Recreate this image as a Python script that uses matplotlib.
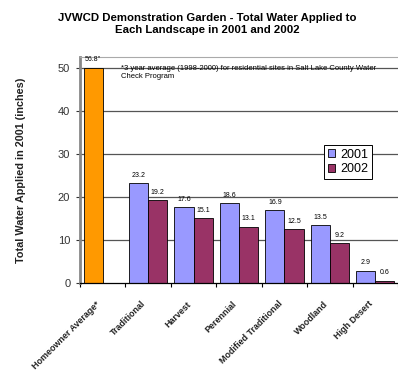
import numpy as np
import matplotlib
matplotlib.use("Agg")
import matplotlib.pyplot as plt
from matplotlib.patches import Patch

# data
categories = ["Homeowner Average*", "Traditional", "Harvest", "Perennial",
              "Modified Traditional", "Woodland", "High Desert"]
water_2001 = [56.8, 23.2, 17.6, 18.6, 16.9, 13.5, 2.9]
water_2002 = [None, 19.2, 15.1, 13.1, 12.5, 9.2, 0.6]
labels_2001 = ['56.8"', "23.2", "17.6", "18.6", "16.9", "13.5", "2.9"]
labels_2002 = [None, "19.2", "15.1", "13.1", "12.5", "9.2", "0.6"]
axis_max = 50

plt.rcParams['font.family'] = ['Liberation Sans', 'DejaVu Sans']

fig = plt.figure(figsize=(3.98, 3.72), dpi=100)
ax = fig.add_axes([0.201, 0.239, 0.799, 0.608])

x = np.arange(len(categories))
w = 0.42
blue = "#9999ff"
maroon = "#993366"
orange = "#ff9900"

# grid lines behind the bars
for g in range(10, axis_max + 1, 10):
    ax.axhline(g, color="#555555", lw=0.9, zorder=0)

h01 = [min(v, axis_max) for v in water_2001]
cols01 = [orange] + [blue] * (len(categories) - 1)
ax.bar(x - w / 2, h01, width=w, color=cols01, edgecolor="black", lw=0.6, zorder=2)

x02 = [xi + w / 2 for xi, v in zip(x, water_2002) if v is not None]
h02 = [v for v in water_2002 if v is not None]
ax.bar(x02, h02, width=w, color=maroon, edgecolor="black", lw=0.6, zorder=2)

for xi, v, t in zip(x, h01, labels_2001):
    ax.text(xi - w / 2, v + 1.0, t, ha="center", va="bottom", fontsize=5)
for xi, v, t in zip(x, water_2002, labels_2002):
    if v is not None:
        ax.text(xi + w / 2, v + 1.0, t, ha="center", va="bottom", fontsize=5)

ax.set_xlim(-0.5, len(categories) - 0.5)
ax.set_ylim(0, 52.5)
ax.set_yticks(range(0, axis_max + 1, 10))
ax.tick_params(axis="y", labelsize=8, length=3, width=0.8, colors="#333333", pad=4)
ax.set_xticks(np.arange(-0.5, len(categories), 1.0))
ax.set_xticklabels([])
ax.tick_params(axis="x", length=3, width=0.8)
for xi, c in zip(x, categories):
    ax.text(xi - 0.15, -3.8, c, rotation=45, ha="right", va="top",
            rotation_mode="anchor", fontsize=6.4, fontweight="bold", color="#222222")

ax.spines["left"].set_color("#888888")
ax.spines["left"].set_linewidth(2.0)
ax.spines["top"].set_color("#aaaaaa")
ax.spines["right"].set_visible(False)
ax.spines["bottom"].set_linewidth(0.9)

ax.set_ylabel("Total Water Applied in 2001 (inches)", fontsize=7.8,
              fontweight="bold", color="#222222")
ax.yaxis.set_label_coords(-0.17, 0.5)

ax.text(0.13, 0.965, "*3 year average (1998-2000) for residential sites in Salt Lake County Water\nCheck Program",
        transform=ax.transAxes, ha="left", va="top", fontsize=5.5, linespacing=1.3)

handles = [Patch(facecolor=blue, edgecolor="black", lw=0.6, label="2001"),
           Patch(facecolor=maroon, edgecolor="black", lw=0.6, label="2002")]
leg = ax.legend(handles=handles, loc="center", bbox_to_anchor=(0.843, 0.535), fontsize=9,
                frameon=True, fancybox=False, edgecolor="black", framealpha=1,
                handlelength=0.6, handleheight=0.6, handletextpad=0.4,
                borderpad=0.3, labelspacing=0.2)
leg.get_frame().set_linewidth(0.7)

fig.text(0.52, 0.965, "JVWCD Demonstration Garden - Total Water Applied to\nEach Landscape in 2001 and 2002",
         ha="center", va="top", fontsize=8.2, fontweight="bold", linespacing=1.25)

fig.savefig("out.png", dpi=100)
